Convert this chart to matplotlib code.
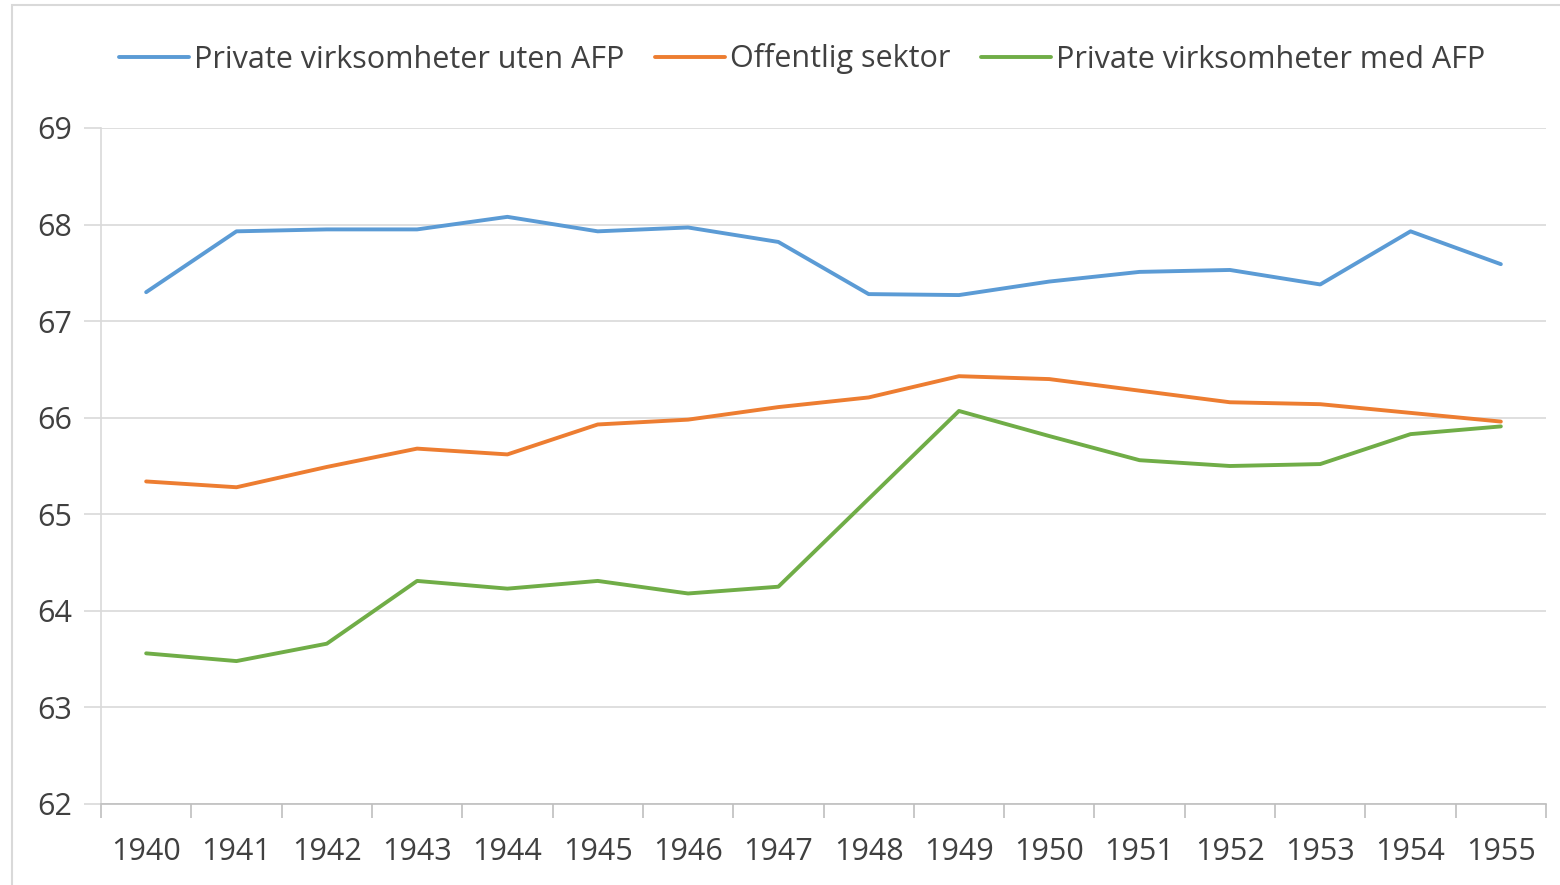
import matplotlib
matplotlib.use("Agg")
import matplotlib.pyplot as plt
from matplotlib.patches import Rectangle
from matplotlib import font_manager

years = [str(y) for y in range(1940, 1956)]
private_uten_afp = [67.30, 67.93, 67.95, 67.95, 68.08, 67.93, 67.97, 67.82,
                    67.28, 67.27, 67.41, 67.51, 67.53, 67.38, 67.93, 67.59]
offentlig = [65.34, 65.28, 65.49, 65.68, 65.62, 65.93, 65.98, 66.11,
             66.21, 66.43, 66.40, 66.28, 66.16, 66.14, 66.05, 65.96]
private_med_afp = [63.56, 63.48, 63.66, 64.31, 64.23, 64.31, 64.18, 64.25,
                   65.16, 66.07, 65.81, 65.56, 65.50, 65.52, 65.83, 65.91]
series_names = ["Private virksomheter uten AFP", "Offentlig sektor",
                "Private virksomheter med AFP"]
colors = ["#5B9BD5", "#ED7D31", "#70AD47"]
yticks = [62, 63, 64, 65, 66, 67, 68, 69]

avail = {f.name for f in font_manager.fontManager.ttflist}
fam = "Liberation Sans Narrow" if "Liberation Sans Narrow" in avail else "Open Sans"
plt.rcParams['font.family'] = [fam, 'DejaVu Sans']

fig = plt.figure(figsize=(15.6, 8.85), dpi=100)
W, H = 1560, 885
ax = fig.add_axes([101 / W, 1 - 804 / H, (1546 - 101) / W, (804 - 128) / H])

x = list(range(len(years)))
for vals, name, c in zip([private_uten_afp, offentlig, private_med_afp], series_names, colors):
    ax.plot(x, vals, color=c, lw=2.8, label=name, solid_capstyle='round',
            solid_joinstyle='round')

ax.set_xlim(-0.5, len(years) - 0.5)
ax.set_ylim(62, 69)
ax.set_yticks(yticks)
ax.set_yticklabels([str(v) for v in yticks])
ax.set_xticks(x)
ax.set_xticklabels(years)
ax.set_xticks([i - 0.5 for i in range(len(years) + 1)], minor=True)
ax.tick_params(axis='x', which='major', length=0, pad=24, labelsize=22, labelcolor='#404040')
ax.tick_params(axis='x', which='minor', length=10, color='#BFBFBF', width=1.2)
ax.tick_params(axis='y', length=12, color='#D9D9D9', width=1.2, pad=9,
               labelsize=22, labelcolor='#404040')
ax.grid(axis='y', color='#D9D9D9', lw=1.2)
ax.set_axisbelow(True)
for s in ['top', 'right']:
    ax.spines[s].set_visible(False)
ax.spines['left'].set_color('#D9D9D9')
ax.spines['left'].set_linewidth(1.2)
ax.spines['bottom'].set_color('#BFBFBF')
ax.spines['bottom'].set_linewidth(1.2)

leg = fig.legend(loc='center', bbox_to_anchor=(802 / W, 1 - 59 / H), ncol=3,
                 frameon=False, fontsize=22, handlelength=2.3, handletextpad=0.15,
                 columnspacing=1.0, labelcolor='#404040')
for h in leg.legend_handles:
    h.set_linewidth(2.8)

fig.patches.append(Rectangle((12 / W, -0.1), 1.2, 1 - 5 / H + 0.1, transform=fig.transFigure,
                             fill=False, edgecolor='#D9D9D9', lw=1.5))

fig.savefig("out.png", dpi=100, facecolor='white')
